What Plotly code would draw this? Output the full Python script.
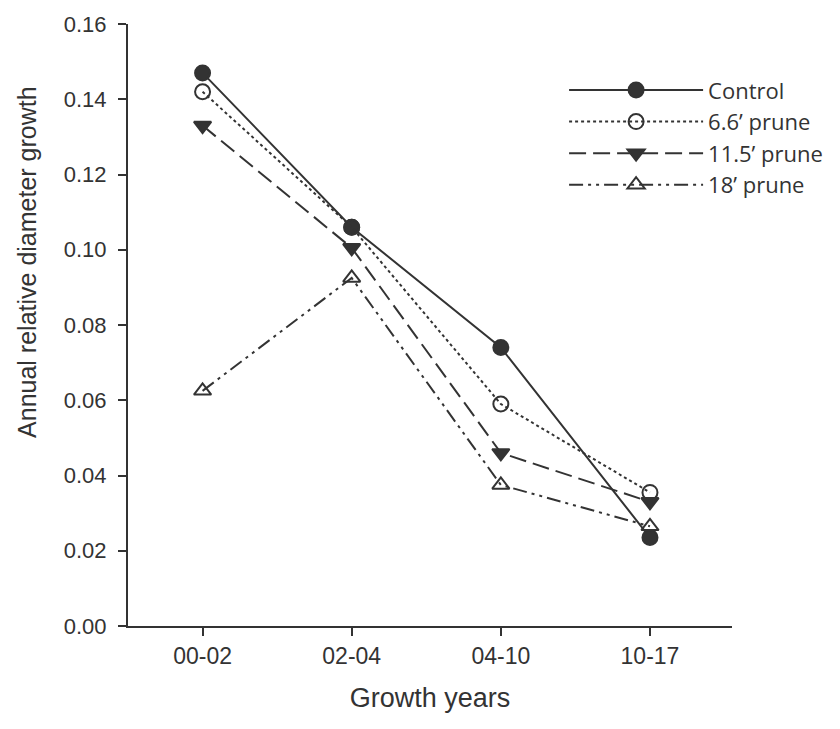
import plotly.graph_objects as go

categories = ["00-02", "02-04", "04-10", "10-17"]
control = [0.147, 0.106, 0.074, 0.0235]
prune_66 = [0.142, 0.106, 0.059, 0.0355]
prune_115 = [0.133, 0.1005, 0.046, 0.033]
prune_18 = [0.0625, 0.0925, 0.0375, 0.0265]
series_names = ["Control", "6.6\u2019 prune", "11.5\u2019 prune", "18\u2019 prune"]
y_ticks = [0.00, 0.02, 0.04, 0.06, 0.08, 0.10, 0.12, 0.14, 0.16]

c = "#333333"
styles = [
    dict(dash="solid", symbol="circle"),
    dict(dash="dot", symbol="circle-open"),
    dict(dash="17px,7px", symbol="triangle-down"),
    dict(dash="14px,5px,3px,5px,3px,5px", symbol="triangle-up-open"),
]
data = [control, prune_66, prune_115, prune_18]

fig = go.Figure()
for name, vals, st in zip(series_names, data, styles):
    fig.add_trace(go.Scatter(
        x=categories, y=vals, name=name, mode="lines+markers",
        line=dict(color=c, width=2, dash=st["dash"]),
        marker=dict(symbol=st["symbol"], size=15, color=c,
                    line=dict(color=c, width=2)),
    ))

fig.add_annotation(
    text="Annual relative diameter growth", textangle=-90,
    xref="paper", yref="paper", x=-0.167, y=0.605,
    xanchor="center", yanchor="middle", showarrow=False,
    font=dict(size=25, color=c),
)

fig.update_layout(
    width=840, height=729,
    margin=dict(l=128, r=105, t=16, b=103),
    paper_bgcolor="white", plot_bgcolor="white",
    font=dict(family="Liberation Sans, Arial, sans-serif", color="#333333"),
    showlegend=True,
    legend=dict(x=0.722, y=0.925, xanchor="left", yanchor="top",
                bgcolor="rgba(0,0,0,0)", itemwidth=134,
                font=dict(family="Open Sans, sans-serif", size=22, color="#333333"),
                tracegroupgap=0),
    xaxis=dict(
        type="category", range=[-0.5, 3.55],
        showline=True, linecolor=c, linewidth=2,
        ticks="outside", ticklen=8, tickwidth=1.5, tickcolor=c,
        tickfont=dict(size=23), showgrid=False, zeroline=False,
        title=dict(text="Growth years", font=dict(size=27), standoff=21),
    ),
    yaxis=dict(
        range=[0, 0.16], tickvals=y_ticks, tickformat=".2f",
        showline=True, linecolor=c, linewidth=2,
        ticks="outside", ticklen=8, tickwidth=1.5, tickcolor=c,
        ticklabelstandoff=7,
        tickfont=dict(size=22), showgrid=False, zeroline=False,
    ),
)

fig.write_html("out.html")
